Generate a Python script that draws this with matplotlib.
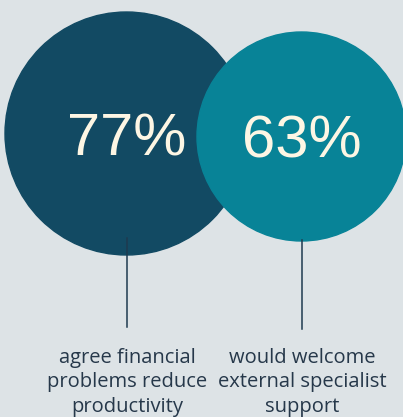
import matplotlib
matplotlib.use("Agg")
from matplotlib import pyplot as plt
from matplotlib.patches import Circle

# data
values = [77, 63]
labels = ["agree financial\nproblems reduce\nproductivity",
          "would welcome\nexternal specialist\nsupport"]
colors = ["#124a63", "#088397"]

# layout (pixels, y down)
centers = [(126.5, 133.5), (301.5, 136.5)]
radii = [121.5, 104.5]
line_ends = [(238, 327), (240, 329)]
label_y = 348

bg = "#dde3e6"
fig = plt.figure(figsize=(4.03, 4.17), dpi=100, facecolor=bg)
ax = fig.add_axes([0, 0, 1, 1])
ax.set_facecolor(bg)
ax.set_xlim(0, 403)
ax.set_ylim(417, 0)
ax.set_aspect("equal")
ax.axis("off")

for i, v in enumerate(values):
    cx, cy = centers[i]
    ax.add_patch(Circle((cx, cy), radii[i], color=colors[i], zorder=1 + i))
    ax.text(cx, cy, str(v) + "%", color="#fdf6e4", fontsize=43,
            family="Liberation Sans", ha="center", va="center_baseline", zorder=5)
    y0, y1 = line_ends[i]
    ax.plot([cx, cx], [y0, y1], color="#1e3a4f", linewidth=1.1, zorder=6)
    ax.text(cx + 1, label_y, labels[i], color="#26384a", fontsize=14.5,
            family="Open Sans", ha="center", va="top", linespacing=1.3, zorder=5)

fig.savefig("out.png", dpi=100, facecolor=bg)
